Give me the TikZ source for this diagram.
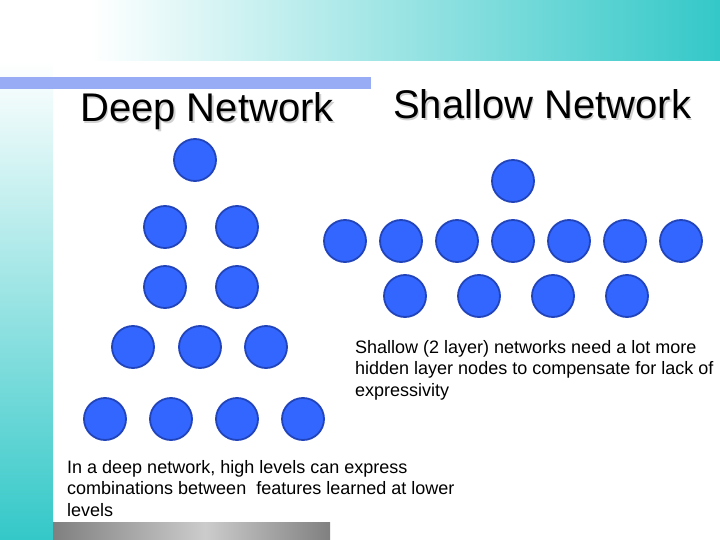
\documentclass[tikz,border=0pt]{standalone}
\usepackage{fontspec}
\setmainfont{Liberation Sans}
\definecolor{tealc}{RGB}{52,200,200}
\definecolor{barblue}{RGB}{151,172,245}
\definecolor{unitfill}{RGB}{51,102,255}
\definecolor{unitedge}{RGB}{34,68,187}
\definecolor{bardark}{RGB}{128,128,128}
\definecolor{barlight}{RGB}{204,204,204}

\begin{document}
\begin{tikzpicture}[x=1pt, y=-1pt,
    unit/.style={circle, fill=unitfill, draw=unitedge, line width=1.8pt, minimum size=42pt, inner sep=0pt},
    title/.style={font=\fontsize{40}{48}\selectfont, inner sep=0pt, anchor=base west},
    titleshadow/.style={title, text=black!18},
    note/.style={font=\fontsize{18}{21.5}\selectfont, align=left, anchor=north west, inner sep=0pt}]
    \useasboundingbox (0,0) rectangle (720,540);
    % slide background
    \shade[left color=white, right color=tealc] (90,0) rectangle (720,61);
    \shade[top color=white, bottom color=tealc] (0,61) rectangle (53,540);
    \fill[barblue] (0,77) rectangle (371,89);
    \shade[left color=bardark, right color=barlight] (53,522) rectangle (205,540);
    \shade[left color=barlight, right color=bardark] (205,522) rectangle (330,540);
    % titles
    \node[titleshadow] (deepshadow) at (81.5,123.5) {Deep Network};
    \node[title] (deep) at (80,122) {Deep Network};
    \node[titleshadow] (shallowshadow) at (394.5,120.5) {Shallow Network};
    \node[title] (shallow) at (393,119) {Shallow Network};
    % deep network
    \node[unit] (d1) at (195,160) {};
    \foreach \x [count=\i] in {165,237} \node[unit] (d2\i) at (\x,227) {};
    \foreach \x [count=\i] in {165,237} \node[unit] (d3\i) at (\x,287) {};
    \foreach \x [count=\i] in {133,200,266} \node[unit] (d4\i) at (\x,347) {};
    \foreach \x [count=\i] in {105,171,237,303} \node[unit] (d5\i) at (\x,419) {};
    % shallow network
    \node[unit] (s1) at (513,181) {};
    \foreach \x [count=\i] in {345,401,457,513,569,625,681} \node[unit] (s2\i) at (\x,241) {};
    \foreach \x [count=\i] in {405,479,553,627} \node[unit] (s3\i) at (\x,296) {};
    % notes
    \node[note] (shallownote) at (355,340) {Shallow (2 layer) networks need a lot more\\hidden layer nodes to compensate for lack of\\expressivity};
    \node[note] (deepnote) at (67,460) {In a deep network, high levels can express\\combinations between\ \ features learned at lower\\levels};
\end{tikzpicture}
\end{document}
